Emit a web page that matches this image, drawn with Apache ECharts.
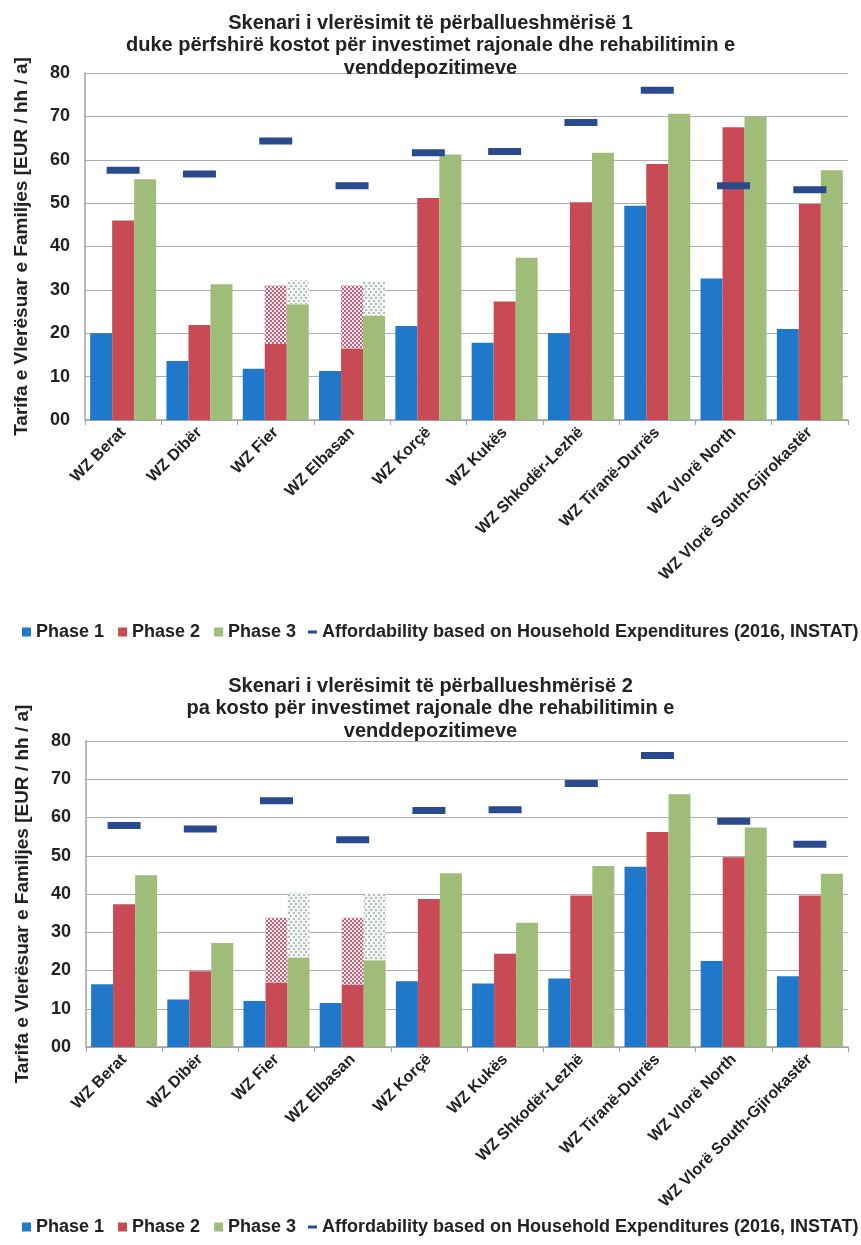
<!DOCTYPE html>
<html>
<head>
<meta charset="utf-8">
<script src="https://cdn.jsdelivr.net/npm/echarts@6/dist/echarts.min.js"></script>
<style>
html,body{margin:0;padding:0;background:#fff;}
#main{width:861px;height:1245px;}
</style>
</head>
<body>
<div id="main"></div>
<script>
const categories = ['WZ Berat','WZ Dibër','WZ Fier','WZ Elbasan','WZ Korçë','WZ Kukës','WZ Shkodër-Lezhë','WZ Tiranë-Durrës','WZ Vlorë North','WZ Vlorë South-Gjirokastër'];
const yTicks = ['00','10','20','30','40','50','60','70','80'];

const title1 = 'Skenari i vlerësimit të përballueshmërisë 1\nduke përfshirë kostot për investimet rajonale dhe rehabilitimin e\nvenddepozitimeve';
const title2 = 'Skenari i vlerësimit të përballueshmërisë 2\npa kosto për investimet rajonale dhe rehabilitimin e\nvenddepozitimeve';
const yName = 'Tarifa e Vlerësuar e Familjes [EUR / hh / a]';

// Scenario 1
const phase1_s1 = [20, 13.6, 11.8, 11.3, 21.7, 17.8, 20, 49.4, 32.6, 21];
const phase2_s1 = [46, 21.9, 17.5, 16.5, 51.2, 27.3, 50.2, 59, 67.5, 49.8];
const phase3_s1 = [55.5, 31.3, 26.7, 24, 61.2, 37.4, 61.6, 70.6, 70, 57.6];
const afford_s1 = [57.6, 56.7, 64.3, 54, 61.6, 61.9, 68.6, 76, 54, 53.1];
const extra2_s1 = [null, null, 13.5, 14.5, null, null, null, null, null, null];
const extra3_s1 = [null, null, 5.5, 8, null, null, null, null, null, null];

// Scenario 2
const phase1_s2 = [16.4, 12.4, 12, 11.5, 17.2, 16.6, 17.9, 47.1, 22.5, 18.5];
const phase2_s2 = [37.3, 19.8, 16.8, 16.3, 38.7, 24.4, 39.6, 56.2, 49.6, 39.6];
const phase3_s2 = [44.9, 27.2, 23.4, 22.7, 45.4, 32.5, 47.3, 66.1, 57.4, 45.3];
const afford_s2 = [57.9, 57, 64.4, 54.2, 61.8, 62, 68.9, 76.2, 59, 53];
const extra2_s2 = [null, null, 17, 17.5, null, null, null, null, null, null];
const extra3_s2 = [null, null, 17, 17.5, null, null, null, null, null, null];

const FONT = "'Liberation Sans', Arial, sans-serif";
const C1 = '#1f78c9', C2 = '#c84a55', C3 = '#9fbd79', CA = '#2a4a8e';

const chart = echarts.init(document.getElementById('main'), null, {renderer:'canvas'});

function xAxis(gi){
  return {
    type:'category', gridIndex:gi, data:categories,
    axisLine:{lineStyle:{color:'#9aa3ab', width:1.5}},
    axisTick:{show:true, length:5, lineStyle:{color:'#9aa3ab'}},
    axisLabel:{rotate:45, interval:0, fontSize:16, fontWeight:'bold', color:'#222', fontFamily:FONT, margin:10}
  };
}
function yAxis(gi){
  return {
    type:'value', gridIndex:gi, min:0, max:80, interval:10,
    name:yName, nameLocation:'middle', nameGap:54,
    nameTextStyle:{fontSize:19, fontWeight:'bold', color:'#222', fontFamily:FONT},
    axisLine:{show:true, lineStyle:{color:'#9aa3ab', width:1.5}},
    axisTick:{show:false},
    splitLine:{lineStyle:{color:'#a8aeb3', width:1.2}},
    axisLabel:{fontSize:18, fontWeight:'bold', color:'#222', fontFamily:FONT, margin:15,
      formatter:function(v){ return yTicks[Math.round(v/10)]; }}
  };
}
const hatch2 = {color:'#f3e6ea', decal:{symbol:'rect', symbolSize:1, color:'rgba(170,60,90,0.75)', dashArrayX:[[2,2],[0,2,2,0]], dashArrayY:[2,0]}};
const hatch3 = {color:'#f4f6f4', decal:{symbol:'rect', symbolSize:1, color:'rgba(150,165,160,0.7)', dashArrayX:[[2,3],[0,3,2,0]], dashArrayY:[2,1]}};

function seriesFor(gi, p1, p2, p3, e2, e3, aff){
  const base = {type:'bar', xAxisIndex:gi, yAxisIndex:gi, barWidth:22, barGap:'0%', barCategoryGap:'12%'};
  return [
    Object.assign({}, base, {name:'Phase 1', data:p1, itemStyle:{color:C1}}),
    Object.assign({}, base, {name:'Phase 2', data:p2, stack:'s2_'+gi, itemStyle:{color:C2}}),
    Object.assign({}, base, {name:'Phase 2 ext', data:e2, stack:'s2_'+gi, itemStyle:hatch2}),
    Object.assign({}, base, {name:'Phase 3', data:p3, stack:'s3_'+gi, itemStyle:{color:C3}}),
    Object.assign({}, base, {name:'Phase 3 ext', data:e3, stack:'s3_'+gi, itemStyle:hatch3}),
    {name:'Affordability based on Household Expenditures (2016, INSTAT)', type:'scatter', xAxisIndex:gi, yAxisIndex:gi,
     data:aff, symbol:'rect', symbolSize:[33,7], itemStyle:{color:CA, opacity:1}, z:5}
  ];
}
const legText = {fontSize:18, fontWeight:'bold', color:'#222', fontFamily:FONT};
function legends(top){
  return [
    {left:22, top:top, itemWidth:9, itemHeight:9, itemGap:14, padding:0, icon:'rect',
     data:['Phase 1','Phase 2','Phase 3'], textStyle:legText, selectedMode:false},
    {left:308, top:top, itemWidth:9, itemHeight:3, itemGap:10, padding:0, icon:'rect',
     data:['Affordability based on Household Expenditures (2016, INSTAT)'], textStyle:legText, selectedMode:false}
  ];
}
const titleText = {fontSize:20, fontWeight:'bold', color:'#222', fontFamily:FONT, lineHeight:22.5};

chart.setOption({
  animation:false,
  backgroundColor:'#fff',
  title:[
    {text:title1, left:'center', top:7, textStyle:titleText},
    {text:title2, left:'center', top:670, textStyle:titleText}
  ],
  legend: legends(623).concat(legends(1218)),
  grid:[
    {left:85, right:13, top:73, height:347},
    {left:86, right:13, top:741, height:306}
  ],
  xAxis:[xAxis(0), xAxis(1)],
  yAxis:[yAxis(0), yAxis(1)],
  series: seriesFor(0, phase1_s1, phase2_s1, phase3_s1, extra2_s1, extra3_s1, afford_s1)
    .concat(seriesFor(1, phase1_s2, phase2_s2, phase3_s2, extra2_s2, extra3_s2, afford_s2))
});
</script>
</body>
</html>
